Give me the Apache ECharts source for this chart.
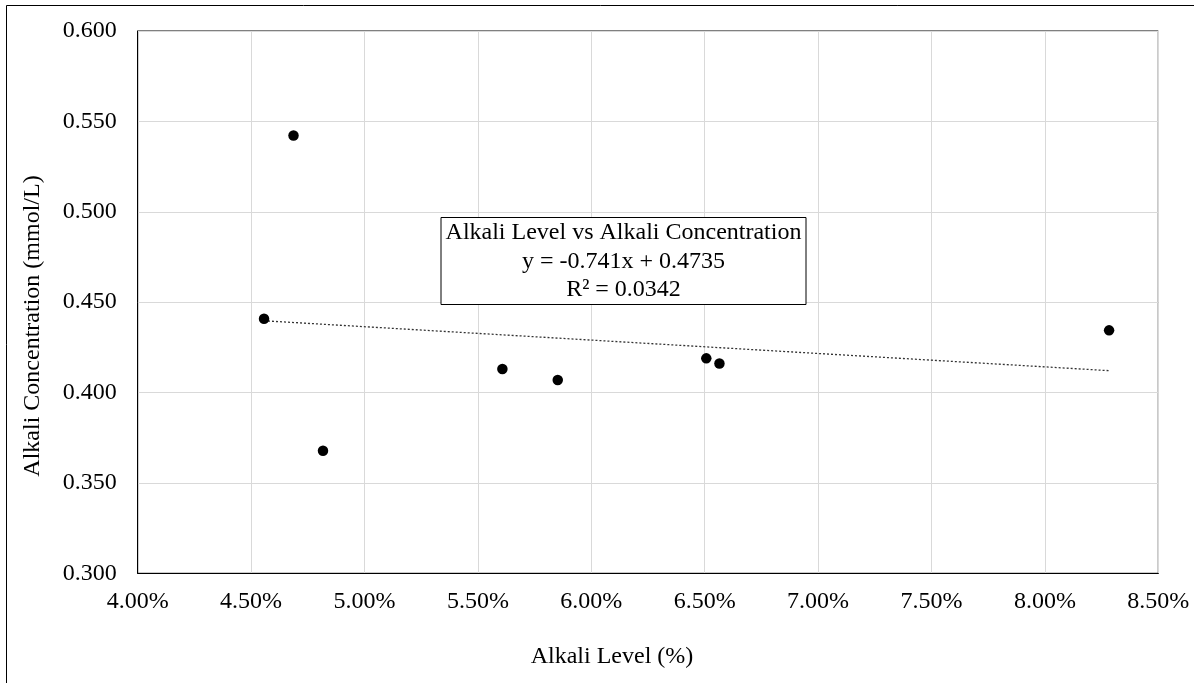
<!DOCTYPE html>
<html>
<head>
<meta charset="utf-8">
<script src="https://cdn.jsdelivr.net/npm/echarts@6/dist/echarts.min.js"></script>
<style>
html,body{margin:0;padding:0;background:#fff;}
#chart{width:1194px;height:683px;}
</style>
</head>
<body>
<div id="chart"></div>
<script>
// Data (x: alkali level as fraction, y: concentration mmol/L)
const alkaliLevel = [0.04557, 0.04687, 0.04817, 0.05608, 0.05852, 0.06507, 0.06565, 0.08283];
const alkaliConc  = [0.4408, 0.5422, 0.3678, 0.4130, 0.4069, 0.4189, 0.4161, 0.4344];
// Linear trendline endpoints as drawn
const trendX = [0.04557, 0.08283];
const trendY = [0.4397, 0.4121];
const boxLines = ['Alkali Level vs Alkali Concentration', 'y = -0.741x + 0.4735', 'R² = 0.0342'];
const xTitle = 'Alkali Level (%)';
const yTitle = 'Alkali Concentration (mmol/L)';

const FAM = 'Liberation Serif';
const FONT = '24px "Liberation Serif", serif';
const chart = echarts.init(document.getElementById('chart'), null, {renderer: 'canvas'});
chart.setOption({
  animation: false,
  backgroundColor: '#fff',
  textStyle: {fontFamily: FAM, fontSize: 24, color: '#000'},
  grid: {left: 137.7, top: 31, right: 35.7, bottom: 109.7, show: true, borderColor: '#000', borderWidth: 1, backgroundColor: 'transparent'},
  xAxis: {
    type: 'value', min: 0.04, max: 0.085, interval: 0.005,
    axisLine: {show: true, lineStyle: {color: '#000', width: 1}},
    axisTick: {show: false},
    splitLine: {show: true, lineStyle: {color: '#d9d9d9', width: 1}},
    axisLabel: {show: true, color: '#000', fontFamily: FAM, fontSize: 24, margin: 16, hideOverlap: false,
      formatter: v => (v * 100).toFixed(2) + '%'}
  },
  yAxis: {
    type: 'value', min: 0.3, max: 0.6, interval: 0.05,
    axisLine: {show: true, lineStyle: {color: '#000', width: 1}},
    axisTick: {show: false},
    splitLine: {show: true, lineStyle: {color: '#d9d9d9', width: 1}},
    axisLabel: {show: true, color: '#000', fontFamily: FAM, fontSize: 24, margin: 21, hideOverlap: false,
      formatter: v => v.toFixed(3)}
  },
  series: [
    {
      type: 'line', data: trendX.map((x, i) => [x, trendY[i]]),
      symbol: 'none', silent: true, z: 2,
      lineStyle: {color: '#333', width: 1.3, type: [2, 2]}
    },
    {
      type: 'scatter', data: alkaliLevel.map((x, i) => [x, alkaliConc[i]]),
      symbol: 'circle', symbolSize: 10.5, z: 3,
      itemStyle: {color: '#000', opacity: 1}
    }
  ],
  graphic: [
    {type: 'rect', shape: {x: 6.5, y: 5.5, width: 1400, height: 900}, style: {fill: 'none', stroke: '#000', lineWidth: 1}, z: 0, silent: true},
    {type: 'rect', shape: {x: 441, y: 217.5, width: 365, height: 87}, style: {fill: '#fff', stroke: '#000', lineWidth: 1}, z: 10},
    {type: 'text', x: 623.5, y: 261.5, z: 11,
      style: {text: boxLines.join('\n'), font: FONT, fill: '#000', align: 'center', verticalAlign: 'middle', lineHeight: 28.5}},
    {type: 'text', x: 612, y: 657, z: 11,
      style: {text: xTitle, font: FONT, fill: '#000', align: 'center', verticalAlign: 'middle'}},
    {type: 'text', x: 33, y: 326, rotation: Math.PI / 2, z: 11,
      style: {text: yTitle, font: FONT, fill: '#000', align: 'center', verticalAlign: 'middle'}}
  ]
});
</script>
</body>
</html>
